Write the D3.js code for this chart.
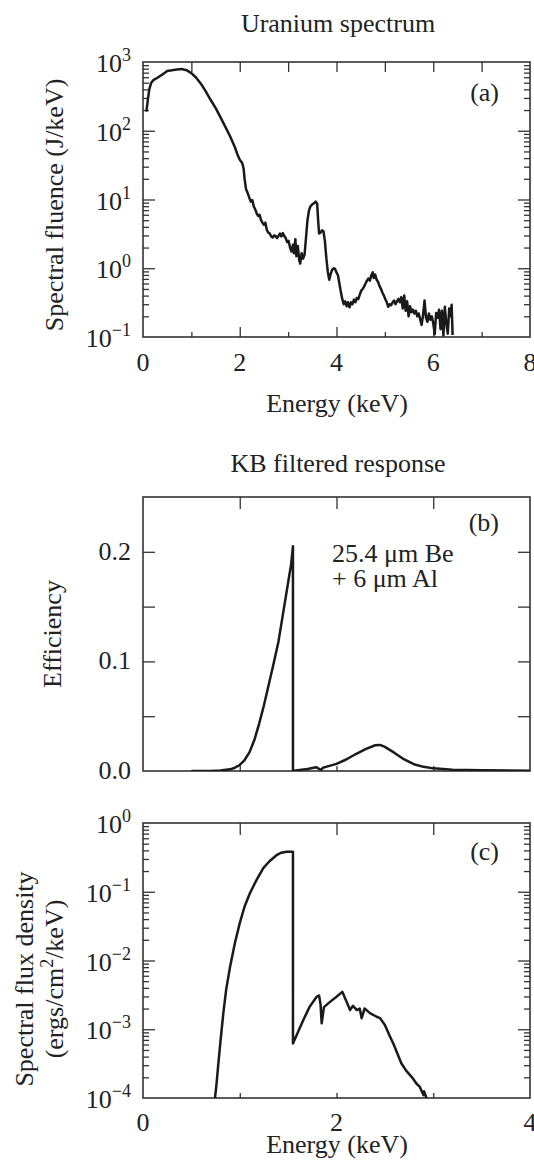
<!DOCTYPE html>
<html>
<head>
<meta charset="utf-8">
<script src="https://cdn.jsdelivr.net/npm/d3@7"></script>
<style>
body { margin: 0; background: #fff; }
text { fill: #222; font-size: 26px; font-family: "Liberation Serif", "DejaVu Serif", "Times New Roman", Times, serif; }
</style>
</head>
<body>
<svg id="fig" width="534" height="1169"></svg>
<script>
// (a) uranium spectrum: energy (keV) / spectral fluence (J/keV)
var uEnergy = [0.07,0.10,0.13,0.17,0.22,0.30,0.40,0.50,0.60,0.70,0.80,0.90,1.00,1.10,1.20,1.30,1.40,1.50,1.60,1.70,
  1.80,1.90,1.95,2.00,2.05,2.08,2.10,2.13,2.16,2.20,2.23,2.26,2.29,2.32,2.35,2.38,2.41,2.44,2.47,2.50,
  2.53,2.56,2.59,2.62,2.65,2.68,2.71,2.74,2.77,2.80,2.83,2.86,2.89,2.92,2.95,2.98,3.01,3.04,3.07,3.10,
  3.12,3.15,3.17,3.20,3.23,3.25,3.28,3.31,3.34,3.37,3.40,3.43,3.46,3.50,3.54,3.57,3.60,3.62,3.64,3.67,
  3.70,3.73,3.76,3.79,3.82,3.85,3.88,3.91,3.94,3.97,4.00,4.03,4.06,4.09,4.12,4.15,4.18,4.21,4.24,4.27,
  4.30,4.33,4.36,4.39,4.42,4.45,4.48,4.51,4.54,4.57,4.60,4.63,4.66,4.69,4.72,4.75,4.77,4.80,4.83,4.86,
  4.89,4.92,4.95,4.98,5.01,5.04,5.07,5.10,5.13,5.16,5.19,5.22,5.25,5.28,5.31,5.34,5.37,5.40,5.43,5.46,
  5.49,5.52,5.55,5.58,5.61,5.64,5.67,5.70,5.73,5.76,5.79,5.82,5.85,5.88,5.91,5.94,5.97,6.00,6.03,6.06,
  6.09,6.12,6.15,6.18,6.21,6.24,6.27,6.30,6.33,6.36,6.38,6.40];
var uFluence = [190,282,400,500,550,590,660,740,760,775,790,760,690,590,480,370,280,215,158,115,
  83,57.5,45.7,38,33.9,28.2,20,14.1,12.6,10.5,9.3,9.8,7.9,7.2,6.3,5.75,6.0,5.0,4.6,4.3,
  4.6,3.6,3.3,3.2,2.9,2.8,3.0,2.95,2.75,2.95,3.2,2.9,3.25,2.95,2.75,2.4,2.5,2.0,1.75,2.2,
  1.65,2.65,1.5,2.1,1.3,1.17,1.65,1.38,1.58,2.8,5.0,6.9,7.9,8.5,8.9,9.3,8.7,5.0,3.2,3.3,
  3.55,3.45,2.5,1.4,0.89,0.68,0.83,0.95,1.0,0.98,0.87,0.79,0.60,0.45,0.355,0.30,0.33,0.28,0.32,0.27,
  0.32,0.30,0.35,0.32,0.37,0.355,0.41,0.47,0.50,0.54,0.60,0.66,0.71,0.66,0.79,0.87,0.72,0.81,0.68,0.63,
  0.55,0.50,0.44,0.40,0.355,0.32,0.275,0.30,0.29,0.32,0.34,0.30,0.33,0.36,0.32,0.38,0.26,0.40,0.24,0.33,
  0.20,0.28,0.23,0.25,0.22,0.24,0.20,0.22,0.18,0.15,0.21,0.34,0.19,0.166,0.22,0.178,0.20,0.158,0.11,0.224,
  0.19,0.25,0.13,0.24,0.105,0.275,0.158,0.112,0.26,0.20,0.295,0.107];

// (b) KB filtered response
var effEnergy = [0.50,0.70,0.80,0.90,0.95,1.00,1.05,1.10,1.15,1.20,1.25,1.30,1.35,1.40,1.45,1.50,1.53,1.55,1.55,1.60,
  1.70,1.79,1.82,1.84,1.86,1.90,2.00,2.10,2.20,2.30,2.40,2.45,2.50,2.60,2.70,2.80,2.90,3.00,3.20,3.50,4.00];
var efficiency = [0,0.0001,0.0004,0.0015,0.003,0.0055,0.010,0.017,0.028,0.043,0.060,0.079,0.098,0.118,0.145,0.172,0.188,0.205,0,0.0008,
  0.0018,0.0035,0.002,0.0008,0.003,0.004,0.0065,0.0105,0.0155,0.020,0.0235,0.0238,0.022,0.0165,0.0105,0.0062,0.0038,0.0024,0.0012,0.0006,0.0002];

// (c) spectral flux density
var fluxEnergy = [0.744,0.76,0.779,0.80,0.83,0.86,0.90,0.95,1.00,1.05,1.105,1.17,1.243,1.31,1.38,1.43,1.485,1.55,1.55,1.60,
  1.657,1.72,1.795,1.82,1.835,1.847,1.87,1.933,2.00,2.06,2.10,2.14,2.17,2.21,2.24,2.26,2.29,2.31,2.35,2.415,
  2.45,2.50,2.55,2.587,2.63,2.67,2.72,2.78,2.83,2.86,2.90,2.905,2.93];
var fluxDensity = [1.0e-4,1.6e-4,3.2e-4,6.5e-4,1.7e-3,3.8e-3,8.1e-3,1.8e-2,3.5e-2,6.1e-2,9.5e-2,0.145,0.22,0.28,0.34,0.37,0.383,0.383,6.2e-4,9.0e-4,
  1.36e-3,2.1e-3,2.97e-3,3.1e-3,2.3e-3,1.22e-3,2.1e-3,2.5e-3,2.97e-3,3.5e-3,2.6e-3,1.9e-3,2.2e-3,1.9e-3,2.0e-3,1.45e-3,2.0e-3,1.9e-3,1.7e-3,1.52e-3,
  1.45e-3,1.15e-3,8.0e-4,6.2e-4,4.4e-4,3.2e-4,2.5e-4,2.0e-4,1.6e-4,1.46e-4,1.1e-4,1.25e-4,1.0e-4];

var xTicksA = [0, 2, 4, 6, 8];
var xMinorA = [1, 3, 5, 7];
var xTicksBC = [1, 2, 3];
var xLabelsBC = [0, 2, 4];
var yDecadesA = [0.1, 1, 10, 100, 1000];
var yTicksB = [0.05, 0.1, 0.15, 0.2];
var yLabelsB = [0, 0.1, 0.2];
var yDecadesC = [1e-4, 1e-3, 1e-2, 1e-1, 1];

var svg = d3.select("#fig");
var left = 143, right = 530;

function minorsOf(decades) {
  var out = [];
  decades.slice(0, -1).forEach(function(d) {
    for (var k = 2; k <= 9; k++) out.push(d * k);
  });
  return out;
}

function tickSet(scale, orient, pos, values, len) {
  var ax = {bottom: d3.axisBottom, top: d3.axisTop, left: d3.axisLeft, right: d3.axisRight}[orient](scale)
    .tickValues(values).tickSize(-len).tickFormat("");
  var horiz = orient === "bottom" || orient === "top";
  var g = svg.append("g")
    .attr("transform", horiz ? "translate(0," + pos + ")" : "translate(" + pos + ",0)")
    .call(ax);
  g.select(".domain").remove();
  g.selectAll("text").remove();
  g.selectAll("line").attr("stroke", "#333").attr("stroke-width", 1.3);
}

function frame(top, bottom, id) {
  svg.append("clipPath").attr("id", id).append("rect")
    .attr("x", left).attr("y", top).attr("width", right - left).attr("height", bottom - top);
  svg.append("rect")
    .attr("x", left).attr("y", top).attr("width", right - left).attr("height", bottom - top)
    .attr("fill", "none").attr("stroke", "#333").attr("stroke-width", 1.6);
}

function curve(xs, ys, x, y, clip) {
  var line = d3.line().x(function(d) { return x(d[0]); }).y(function(d) { return y(d[1]); });
  svg.append("path")
    .datum(d3.zip(xs, ys))
    .attr("clip-path", "url(#" + clip + ")")
    .attr("fill", "none").attr("stroke", "#1a1a1a").attr("stroke-width", 2.5)
    .attr("stroke-linejoin", "round")
    .attr("d", line);
}

function powLabels(y, decades) {
  decades.forEach(function(v) {
    var e = Math.round(Math.log10(v));
    var t = svg.append("text").attr("x", 131).attr("y", y(v) + 10).attr("text-anchor", "end");
    t.append("tspan").text("10");
    t.append("tspan").attr("dy", -11).style("font-size", "18px").text(e < 0 ? "\u2212" + (-e) : e);
  });
}

function xLabels(x, vals, yPos) {
  svg.selectAll(null).data(vals).enter().append("text")
    .attr("x", function(d) { return x(d); }).attr("y", yPos)
    .attr("text-anchor", "middle").text(function(d) { return d; });
}

function title(txt, yPos) {
  svg.append("text").attr("x", 338).attr("y", yPos).attr("text-anchor", "middle").text(txt);
}

function tag(txt, yPos) {
  svg.append("text").attr("x", 499).attr("y", yPos).attr("text-anchor", "end").text(txt);
}

function yTitle(lines, xs, yc) {
  lines.forEach(function(s, i) {
    var t = svg.append("text").attr("text-anchor", "middle")
      .attr("transform", "translate(" + xs[i] + "," + yc + ") rotate(-90)");
    if (typeof s === "string") t.text(s);
    else s(t);
  });
}

// ---- panel (a)
var topA = 62, botA = 337;
var xA = d3.scaleLinear().domain([0, 8]).range([left, right]);
var yA = d3.scaleLog().domain([0.1, 1000]).range([botA, topA]);
frame(topA, botA, "clipA");
tickSet(xA, "bottom", botA, xTicksA.slice(1, -1), 10);
tickSet(xA, "bottom", botA, xMinorA, 5);
tickSet(xA, "top", topA, xTicksA.slice(1, -1), 10);
tickSet(xA, "top", topA, xMinorA, 10);
tickSet(yA, "left", left, yDecadesA.slice(1, -1), 12);
tickSet(yA, "left", left, minorsOf(yDecadesA), 6);
tickSet(yA, "right", right, yDecadesA.slice(1, -1), 12);
tickSet(yA, "right", right, minorsOf(yDecadesA), 6);
curve(uEnergy, uFluence, xA, yA, "clipA");
powLabels(yA, yDecadesA);
xLabels(xA, xTicksA, 371);
title("Uranium spectrum", 32);
svg.append("text").attr("x", 337).attr("y", 412).attr("text-anchor", "middle").text("Energy (keV)");
tag("(a)", 101);
yTitle(["Spectral fluence (J/keV)"], [63], 205);

// ---- panel (b)
var topB = 497, botB = 771;
var xB = d3.scaleLinear().domain([0, 4]).range([left, right]);
var yB = d3.scaleLinear().domain([0, 0.25]).range([botB, topB]);
frame(topB, botB, "clipB");
tickSet(xB, "bottom", botB, xTicksBC, 5);
tickSet(xB, "top", topB, xTicksBC, 12);
tickSet(yB, "left", left, yTicksB, 12);
tickSet(yB, "right", right, yTicksB, 12);
curve(effEnergy, efficiency, xB, yB, "clipB");
svg.selectAll(null).data(yLabelsB).enter().append("text")
  .attr("x", 131).attr("y", function(d) { return yB(d) + 8; })
  .attr("text-anchor", "end").text(function(d) { return d.toFixed(1); });
title("KB filtered response", 472);
tag("(b)", 531);
svg.append("text").attr("x", 332).attr("y", 562).text("25.4 \u03bcm Be");
svg.append("text").attr("x", 332).attr("y", 587).text("+ 6 \u03bcm Al");
yTitle(["Efficiency"], [61], 634);

// ---- panel (c)
var topC = 823, botC = 1098;
var xC = d3.scaleLinear().domain([0, 4]).range([left, right]);
var yC = d3.scaleLog().domain([1e-4, 1]).range([botC, topC]);
frame(topC, botC, "clipC");
tickSet(xC, "bottom", botC, xTicksBC, 5);
tickSet(xC, "top", topC, xTicksBC, 12);
tickSet(yC, "left", left, yDecadesC.slice(1, -1), 12);
tickSet(yC, "left", left, minorsOf(yDecadesC), 6);
tickSet(yC, "right", right, yDecadesC.slice(1, -1), 12);
tickSet(yC, "right", right, minorsOf(yDecadesC), 6);
curve(fluxEnergy, fluxDensity, xC, yC, "clipC");
powLabels(yC, yDecadesC);
xLabels(xC, xLabelsBC, 1131);
svg.append("text").attr("x", 337).attr("y", 1153).attr("text-anchor", "middle").text("Energy (keV)");
tag("(c)", 860);
yTitle(["Spectral flux density", function(t) {
  t.append("tspan").text("(ergs/cm");
  t.append("tspan").attr("dy", -10).style("font-size", "18px").text("2");
  t.append("tspan").attr("dy", 10).text("/keV)");
}], [33, 63], 979);
</script>
</body>
</html>
